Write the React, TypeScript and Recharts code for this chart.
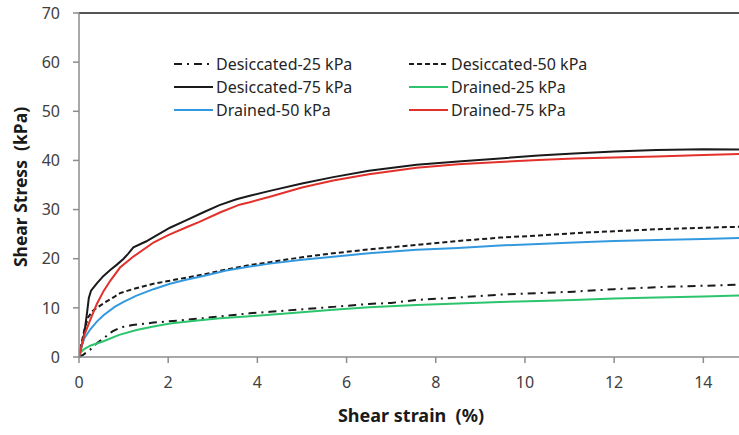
import { LineChart, Line, XAxis, YAxis, ReferenceLine } from 'recharts'

// shear strain (%) / shear stress (kPa) readings per test
const des25Strain = [0, 0.1, 0.25, 0.4, 0.55, 0.75, 0.92, 1.2, 1.67, 2.2, 2.79, 3.3, 3.83, 4.28, 5.0, 5.7, 6.5, 7.0, 7.57, 8.5, 9.44, 10.3, 11.1, 12.0, 12.95, 14.0, 14.8]
const des25Stress = [0, 0.5, 1.5, 2.8, 3.8, 5.2, 6.0, 6.5, 7.0, 7.4, 7.9, 8.4, 8.9, 9.2, 9.7, 10.2, 10.8, 11.0, 11.6, 12.1, 12.7, 13.0, 13.3, 13.8, 14.2, 14.5, 14.7]

const des50Strain = [0, 0.05, 0.12, 0.2, 0.3, 0.4, 0.6, 0.8, 0.92, 1.2, 1.67, 2.2, 2.79, 3.3, 3.83, 4.28, 5.0, 5.7, 6.5, 7.57, 8.5, 9.44, 10.3, 11.1, 12.0, 12.95, 14.0, 14.8]
const des50Stress = [0, 2.5, 5.5, 8, 9.3, 10, 11.2, 12.3, 13, 13.8, 14.9, 15.8, 16.8, 17.8, 18.7, 19.3, 20.3, 21.1, 21.9, 22.8, 23.6, 24.3, 24.7, 25.2, 25.6, 26.0, 26.3, 26.5]

const des75Strain = [0, 0.08, 0.13, 0.18, 0.22, 0.27, 0.4, 0.55, 0.7, 0.85, 1.0, 1.1, 1.22, 1.5, 1.75, 2.04, 2.4, 2.78, 3.15, 3.53, 3.83, 4.28, 5.0, 5.7, 6.5, 7.57, 8.5, 9.44, 10.3, 11.1, 12.0, 12.95, 14.0, 14.8]
const des75Stress = [0, 3, 5.5, 9, 12, 13.5, 15, 16.5, 17.7, 18.8, 20.0, 21.0, 22.3, 23.5, 24.8, 26.3, 27.8, 29.4, 30.9, 32.1, 32.8, 33.8, 35.3, 36.6, 37.9, 39.1, 39.8, 40.4, 41.0, 41.4, 41.8, 42.1, 42.3, 42.2]

const dr25Strain = [0, 0.03, 0.1, 0.25, 0.55, 0.9, 1.29, 1.67, 2.04, 2.6, 3.16, 3.83, 4.28, 5.0, 5.7, 6.5, 7.57, 8.5, 9.44, 10.3, 11.1, 12.0, 12.95, 14.0, 14.8]
const dr25Stress = [0, 0.8, 1.5, 2.3, 3.2, 4.5, 5.5, 6.2, 6.8, 7.4, 7.9, 8.3, 8.6, 9.1, 9.6, 10.1, 10.6, 10.9, 11.2, 11.4, 11.6, 11.9, 12.1, 12.3, 12.5]

const dr50Strain = [0, 0.05, 0.12, 0.25, 0.4, 0.55, 0.8, 1.0, 1.29, 1.67, 2.04, 2.4, 2.79, 3.3, 3.83, 4.28, 5.0, 5.7, 6.5, 7.57, 8.5, 9.44, 10.3, 11.1, 12.0, 12.95, 14.0, 14.8]
const dr50Stress = [0, 2, 3.8, 5.6, 7.2, 8.5, 10.2, 11.2, 12.5, 13.8, 14.9, 15.7, 16.5, 17.6, 18.4, 19, 19.8, 20.4, 21.1, 21.8, 22.2, 22.7, 23.0, 23.3, 23.6, 23.8, 24.0, 24.2]

const dr75Strain = [0, 0.05, 0.12, 0.25, 0.4, 0.55, 0.7, 0.92, 1.2, 1.67, 2.0, 2.41, 2.7, 3.16, 3.6, 3.83, 4.28, 5.0, 5.7, 6.5, 7.57, 8.5, 9.44, 10.3, 11.1, 12.0, 12.95, 14.0, 14.8]
const dr75Stress = [0, 2, 4.5, 7.5, 10.8, 13.4, 15.5, 18.2, 20.3, 23.3, 24.8, 26.4, 27.5, 29.4, 31, 31.5, 32.6, 34.5, 35.9, 37.2, 38.5, 39.2, 39.7, 40.1, 40.4, 40.6, 40.8, 41.1, 41.3]

const xTicks = [0, 2, 4, 6, 8, 10, 12, 14]
const yTicks = [0, 10, 20, 30, 40, 50, 60, 70]

const zip = (xs: number[], ys: number[]) => xs.map((x, i) => ({ strain: x, stress: ys[i] }))

const series = [
  { name: 'Desiccated-25 kPa', data: zip(des25Strain, des25Stress), color: '#1a1a1a', dash: '8 5 2 5' },
  { name: 'Desiccated-50 kPa', data: zip(des50Strain, des50Stress), color: '#1a1a1a', dash: '5 3' },
  { name: 'Desiccated-75 kPa', data: zip(des75Strain, des75Stress), color: '#1a1a1a', dash: undefined },
  { name: 'Drained-25 kPa', data: zip(dr25Strain, dr25Stress), color: '#2dc46e', dash: undefined },
  { name: 'Drained-50 kPa', data: zip(dr50Strain, dr50Stress), color: '#3399df', dash: undefined },
  { name: 'Drained-75 kPa', data: zip(dr75Strain, dr75Stress), color: '#e2302a', dash: undefined },
]

const FONT = '"Noto Sans", sans-serif'
const titleStyle = { fontFamily: FONT, fontWeight: 700, fill: '#1a1a1a', whiteSpace: 'pre' as const }

// axis titles
const XTitle = ({ viewBox }: any) => (
  <text x={viewBox.x + viewBox.width / 2 + 2} y={422} textAnchor="middle" fontSize={18} style={titleStyle}>
    Shear strain  (%)
  </text>
)

const YTitle = () => (
  <text x={27} y={187} transform="rotate(-90 27 187)" textAnchor="middle" fontSize={17.5} style={titleStyle}>
    Shear Stress  (kPa)
  </text>
)

// two-column key laid over the plot area
function LegendBox() {
  return (
    <div
      style={{
        position: 'absolute',
        left: 174,
        top: 53,
        display: 'grid',
        gridTemplateColumns: '235px 200px',
        rowGap: 2,
        fontFamily: FONT,
        fontSize: 16,
        color: '#262626',
      }}
    >
      {series.map((s) => (
        <div key={s.name} style={{ display: 'flex', alignItems: 'center', height: 21 }}>
          <svg width={39} height={4} style={{ marginRight: 3 }}>
            <line x1={0} y1={2} x2={39} y2={2} stroke={s.color} strokeWidth={2} strokeDasharray={s.dash} />
          </svg>
          <span>{s.name}</span>
        </div>
      ))}
    </div>
  )
}

export default function App() {
  return (
    <div style={{ position: 'absolute', left: 0, top: 0, width: 739, height: 435, background: '#fff' }}>
      <LineChart width={739} height={435} margin={{ top: 13, right: 0, bottom: 0, left: 0 }}>
        <XAxis
          type="number"
          dataKey="strain"
          domain={[0, 14.8]}
          ticks={xTicks}
          allowDataOverflow
          height={78}
          tickSize={6}
          tickMargin={14}
          stroke="#8c8c8c"
          strokeWidth={1.5}
          tick={{ fill: '#404040', fontSize: 16, fontFamily: FONT }}
          label={{ content: XTitle }}
        />
        <YAxis
          type="number"
          dataKey="stress"
          domain={[0, 70]}
          ticks={yTicks}
          width={79}
          tickSize={6}
          tickMargin={13}
          stroke="#8c8c8c"
          strokeWidth={1.5}
          tick={{ fill: '#404040', fontSize: 16, fontFamily: FONT }}
          label={{ content: YTitle }}
        />
        <ReferenceLine y={70} stroke="#555" strokeWidth={2} />
        {series.map((s) => (
          <Line
            key={s.name}
            data={s.data}
            dataKey="stress"
            name={s.name}
            type="linear"
            stroke={s.color}
            strokeWidth={2}
            strokeDasharray={s.dash}
            dot={false}
            isAnimationActive={false}
          />
        ))}
      </LineChart>
      <LegendBox />
    </div>
  )
}
